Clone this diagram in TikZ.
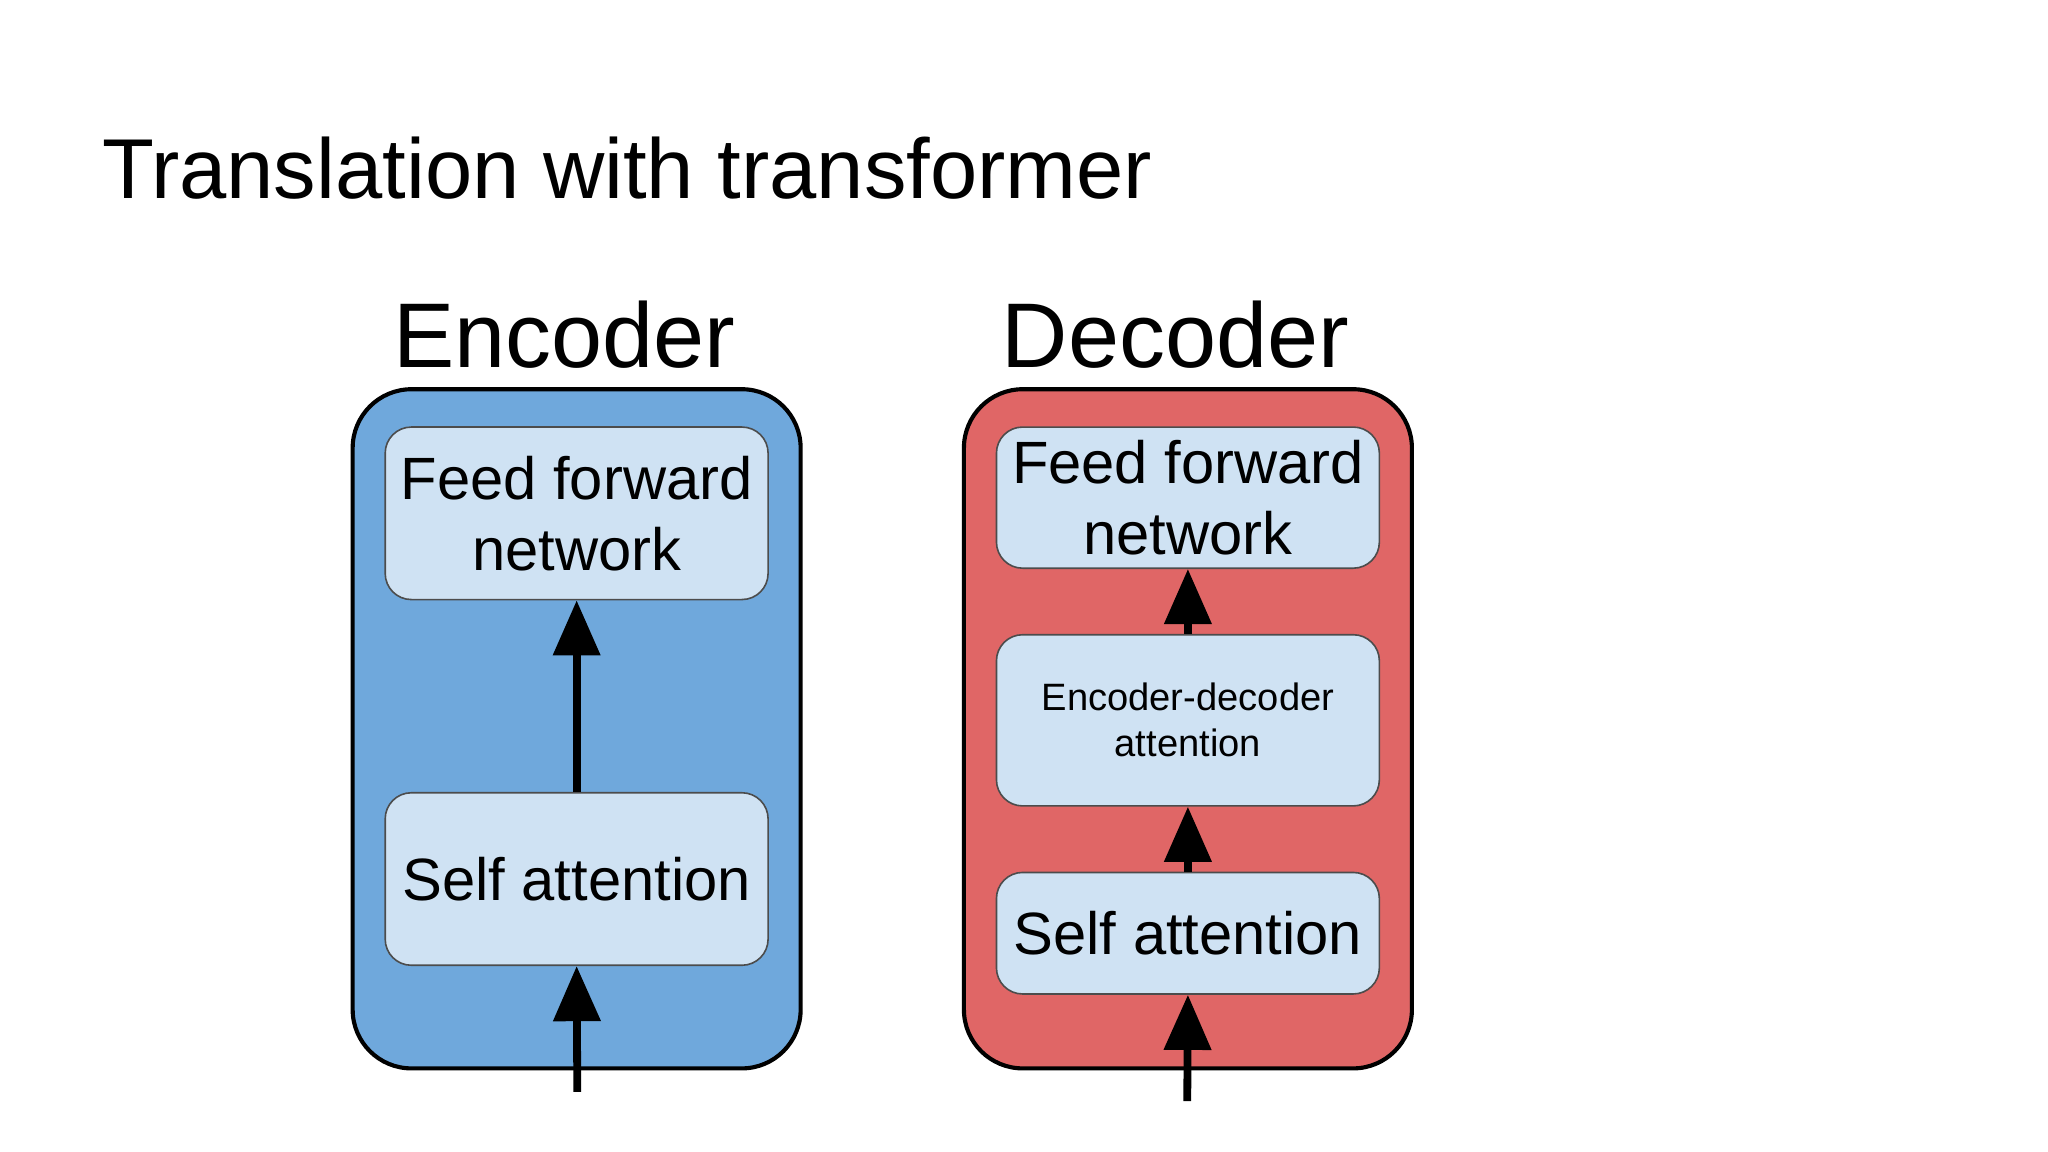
\documentclass[tikz,border=0pt]{standalone}
\usepackage{fontspec}
\setmainfont{Liberation Sans}
\usetikzlibrary{arrows.meta}
\definecolor{encblue}{HTML}{6FA8DC}
\definecolor{decred}{HTML}{E06666}
\definecolor{inner}{HTML}{CFE2F3}
\begin{document}
\begin{tikzpicture}[x=0.01cm,y=-0.01cm,
  outer/.style={draw=black,line width=0.9pt,rounded corners=0.45cm},
  inbox/.style={draw=black!70,line width=0.35pt,fill=inner,rounded corners=0.2cm,align=center,inner sep=0pt},
  big/.style={font=\fontsize{13}{15.5}\selectfont},
  arr/.style={line width=1.7pt,-{Triangle[width=10pt,length=12pt]}}]
\useasboundingbox (0,0) rectangle (1568,882);
\node[anchor=base west,font=\fontsize{18.5}{22}\selectfont] (title) at (66,152) {Translation with transformer};
% Encoder
\node[font=\fontsize{20}{24}\selectfont,anchor=base] (enc) at (432,281) {Encoder};
\draw[outer,fill=encblue] (270,298) rectangle (613,818);
\node[inbox,big,minimum width=2.93cm,minimum height=1.32cm] (eff) at (441.5,393) {Feed forward\\network};
\node[inbox,big,minimum width=2.93cm,minimum height=1.32cm] (esa) at (441.5,673) {Self attention};
\coordinate (ein) at (442,836);
\draw[arr] (esa.north) -- (eff.south);
\draw[arr] (ein) -- (esa.south);
% Decoder
\node[font=\fontsize{20}{24}\selectfont,anchor=base] (dec) at (900,281) {Decoder};
\draw[outer,fill=decred] (738,298) rectangle (1081,818);
\node[inbox,big,minimum width=2.93cm,minimum height=1.08cm] (dff) at (909.5,381) {Feed forward\\network};
\node[inbox,font=\fontsize{8.3}{10}\selectfont,minimum width=2.93cm,minimum height=1.31cm] (ded) at (909.5,551.5) {Encoder-decoder\\attention};
\node[inbox,big,minimum width=2.93cm,minimum height=0.93cm] (dsa) at (909.5,714.5) {Self attention};
\coordinate (din) at (909,843);
\draw[arr] (ded.north) -- (dff.south);
\draw[arr] (dsa.north) -- (ded.south);
\draw[arr] (din) -- (dsa.south);
\end{tikzpicture}
\end{document}
